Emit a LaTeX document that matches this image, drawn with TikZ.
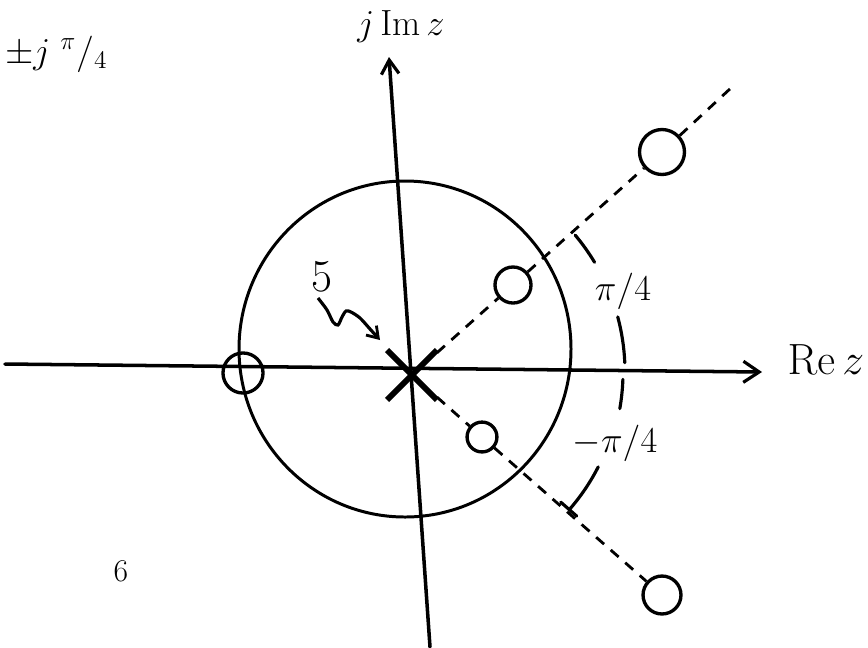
\documentclass[tikz,border=0pt]{standalone}
\usetikzlibrary{arrows.meta,shapes.misc}
\begin{document}
\begin{tikzpicture}[x=0.02cm,y=-0.02cm,
  axis/.style={line width=2pt,line cap=round},
  unitc/.style={line width=1.7pt},
  zero/.style={circle,draw,line width=1.9pt,inner sep=0pt},
  ray/.style={line width=1.6pt,dash pattern=on 6pt off 5pt},
  arcline/.style={line width=1.8pt,line cap=round},
  lbl/.style={inner sep=1pt}]
\useasboundingbox (0,0) rectangle (868,647);
% axes
\coordinate (xl) at (5,364);
\coordinate (xr) at (762,372);
\coordinate (yb) at (430,647);
\coordinate (yt) at (389,57);
\draw[axis,-{Straight Barb[length=9pt,width=12pt,line width=1.8pt]}] (xl) -- (xr);
\draw[axis,-{Straight Barb[length=8pt,width=10pt,line width=1.8pt]}] (yb) -- (yt);
% unit circle
\draw[unitc] (405,349) ellipse [x radius=166, y radius=168];
% pole
\node[cross out,draw,line width=3.4pt,minimum size=25pt] (P) at (412,375) {};
\coordinate (C) at (412,372);
% zeros
\node[zero,minimum size=22.8pt] (z1) at (243,373) {};
\node[zero,minimum size=20.5pt] (z2) at (513,285) {};
\node[zero,minimum size=17pt] (z3) at (482,437) {};
\node[zero,minimum size=25.6pt] (z4) at (662,152) {};
\node[zero,minimum size=21.6pt] (z5) at (662,595) {};
\coordinate (uend) at (732,87);
% rays
\draw[ray] (P) -- (z2) -- (z4) -- (uend);
\draw[ray] (P) -- (z3) -- (z5);
% angle arcs
\draw[arcline] (C) ++(-40:213) arc[start angle=-40,end angle=-31,radius=213];
\draw[arcline] (C) ++(-15:213) arc[start angle=-15,end angle=-2.5,radius=213];
\draw[arcline] (C) ++(2:211) arc[start angle=2,end angle=10,radius=211];
\draw[arcline] (C) ++(27:209) arc[start angle=27,end angle=41,radius=209] coordinate (aend);
\draw[arcline] (aend) ++(-9,-7) -- ++(16,14);
% labels
\node[lbl,font=\fontsize{20}{24}\selectfont] (l1) at (623,291) {$\pi/4$};
\node[lbl,font=\fontsize{20}{24}\selectfont] (l2) at (615,443) {$-\pi/4$};
\node[lbl,font=\fontsize{24}{28}\selectfont] (re) at (826,360) {$\mathrm{Re}\,z$};
\node[lbl,font=\fontsize{22}{26}\selectfont] (im) at (401,27) {$j\,\mathrm{Im}\,z$};
\node[lbl,font=\fontsize{20}{24}\selectfont,anchor=west] (tl) at (3,54) {$\pm j\;{}^{\pi}/{}_{4}$};
\node[lbl,font=\fontsize{18}{22}\selectfont] (six) at (121,571) {6};
\node[lbl,font=\fontsize{26}{30}\selectfont] (five) at (322,277) {5};
% squiggle pointer
\coordinate (sq0) at (318,298);
\coordinate (sq1) at (380,340);
\draw[line width=1.8pt,-{Straight Barb[length=6pt,width=8pt,line width=1.6pt]}]
  plot[smooth] coordinates {(sq0) (327,310) (333,322) (338,325) (342,317) (346,311) (351,312) (360,318) (370,329) (sq1)};
\end{tikzpicture}
\end{document}
